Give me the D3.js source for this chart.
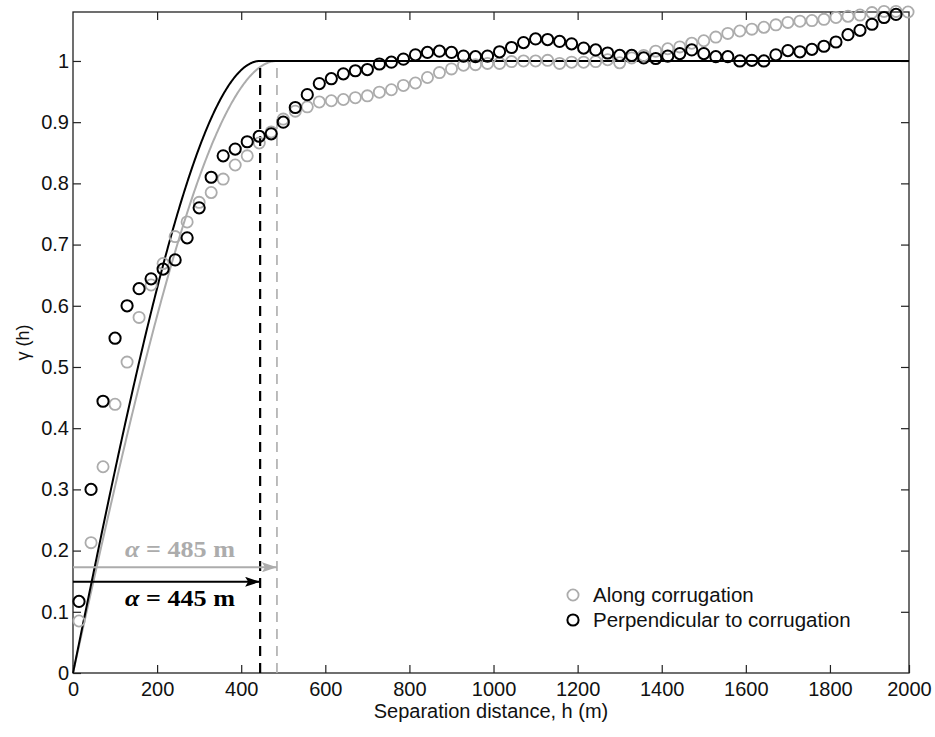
<!DOCTYPE html>
<html>
<head>
<meta charset="utf-8">
<script src="https://cdn.jsdelivr.net/npm/d3@7"></script>
<style>
body { margin: 0; background: #fff; }
svg text { font-family: "Liberation Sans", Arial, sans-serif; }
</style>
</head>
<body>
<svg id="chart" width="935" height="737"></svg>
<script>
// lag distances (m), same for both directions
var lags = [14.3, 42.9, 71.4, 100.0, 128.6, 157.1, 185.7, 214.3, 242.9, 271.4,
	    300.0, 328.6, 357.1, 385.7, 414.3, 442.9, 471.4, 500.0, 528.6, 557.1,
	    585.7, 614.3, 642.9, 671.4, 700.0, 728.6, 757.1, 785.7, 814.3, 842.9,
	    871.4, 900.0, 928.6, 957.1, 985.7, 1014.3, 1042.9, 1071.4, 1100.0, 1128.6,
	    1157.1, 1185.7, 1214.3, 1242.9, 1271.4, 1300.0, 1328.6, 1357.1, 1385.7, 1414.3,
	    1442.9, 1471.4, 1500.0, 1528.6, 1557.1, 1585.7, 1614.3, 1642.9, 1671.4, 1700.0,
	    1728.6, 1757.1, 1785.7, 1814.3, 1842.9, 1871.4, 1900.0, 1928.6, 1957.1, 1985.7]

var gammaAlong = [0.085, 0.213, 0.337, 0.439, 0.508, 0.581, 0.634, 0.669, 0.713, 0.737,
		  0.769, 0.785, 0.807, 0.830, 0.845, 0.866, 0.884, 0.905, 0.918, 0.925,
		  0.933, 0.935, 0.937, 0.940, 0.943, 0.949, 0.953, 0.960, 0.964, 0.973,
		  0.981, 0.987, 0.993, 0.994, 0.996, 0.996, 0.999, 1.000, 1.000, 1.001,
		  0.996, 0.998, 0.998, 0.999, 1.002, 0.997, 1.005, 1.009, 1.016, 1.020,
		  1.023, 1.029, 1.033, 1.039, 1.045, 1.049, 1.052, 1.055, 1.059, 1.063,
		  1.065, 1.066, 1.068, 1.071, 1.073, 1.075, 1.079, 1.081, 1.081, 1.080]

var gammaPerp = [0.117, 0.300, 0.444, 0.547, 0.600, 0.628, 0.644, 0.660, 0.675, 0.711,
		 0.760, 0.810, 0.845, 0.856, 0.868, 0.877, 0.881, 0.900, 0.924, 0.945,
		 0.963, 0.971, 0.979, 0.984, 0.986, 0.995, 0.998, 1.003, 1.010, 1.014,
		 1.016, 1.014, 1.008, 1.007, 1.008, 1.015, 1.022, 1.030, 1.036, 1.035,
		 1.032, 1.028, 1.021, 1.018, 1.013, 1.009, 1.009, 1.005, 1.004, 1.008,
		 1.012, 1.018, 1.012, 1.007, 1.007, 1.000, 1.001, 1.000, 1.010, 1.017,
		 1.015, 1.019, 1.024, 1.031, 1.043, 1.050, 1.060, 1.071, 1.076]

// spherical model ranges (m): along, perpendicular; sill = 1
var seriesNames = ["Along corrugation", "Perpendicular to corrugation"]
var modelRanges = [485, 445]
var modelSill = 1
var arrowLevels = [0.1727, 0.149]

var xTicks = [0, 200, 400, 600, 800, 1000, 1200, 1400, 1600, 1800, 2000]
var yTicks = [0, 0.1, 0.2, 0.3, 0.4, 0.5, 0.6, 0.7, 0.8, 0.9, 1]

var grey = "#acacac"
var colors = [grey, "#000"]

var xleft = 73, xright = 909, ytop = 12, ybottom = 673

// frame stops just short of 2000 m in the original, clamp puts the 2000 label at the edge
var x = d3.scaleLinear().domain([0, 1988]).range([xleft, xright]).clamp(true)
var y = d3.scaleLinear().domain([0, 1.08]).range([ybottom, ytop])

var svg = d3.select("#chart")

function spherical(h, a) {
    if (h >= a) return modelSill
    var r = h / a
    return modelSill * (1.5 * r - 0.5 * r * r * r)
}

// axes, ticks pointing inward on all four sides
svg.append("g")
    .attr("transform", "translate(0," + ybottom + ")")
    .call(d3.axisBottom(x).tickValues(xTicks).tickSize(-8).tickPadding(9)
	  .tickFormat(d3.format("d")))
    .call(function(g) { g.select(".domain").remove() })
    .selectAll("text").attr("font-size", 20).attr("fill", "#111")

svg.append("g")
    .attr("transform", "translate(0," + ytop + ")")
    .call(d3.axisTop(x).tickValues(xTicks.slice(1, -1)).tickSize(-8).tickFormat(""))
    .call(function(g) { g.select(".domain").remove() })

svg.append("g")
    .attr("transform", "translate(" + xleft + ",0)")
    .call(d3.axisLeft(y).tickValues(yTicks).tickSize(-8).tickPadding(4)
	  .tickFormat(d3.format("")))
    .call(function(g) { g.select(".domain").remove() })
    .selectAll("text").attr("font-size", 20).attr("fill", "#111")

svg.append("g")
    .attr("transform", "translate(" + xright + ",0)")
    .call(d3.axisRight(y).tickValues(yTicks.slice(1)).tickSize(-8).tickFormat(""))
    .call(function(g) { g.select(".domain").remove() })

svg.selectAll(".tick line").attr("stroke", "#222").attr("stroke-width", 1.2)

svg.append("rect")
    .attr("x", xleft)
    .attr("y", ytop)
    .attr("width", xright - xleft)
    .attr("height", ybottom - ytop)
    .attr("fill", "none")
    .attr("stroke", "#222")
    .attr("stroke-width", 1.3)

// model curves
var modelLine = d3.line()
    .x(function(d) { return x(d[0]) })
    .y(function(d) { return y(d[1]) })

modelRanges.forEach(function(a, i) {
    var pts = d3.range(0, a, 2).map(function(h) { return [h, spherical(h, a)] })
    pts.push([a, modelSill], [1988, modelSill])
    svg.append("path")
	.attr("d", modelLine(pts))
	.attr("fill", "none")
	.attr("stroke", colors[i])
	.attr("stroke-width", 2)
})

// range markers
modelRanges.forEach(function(a, i) {
    svg.append("line")
	.attr("x1", x(a)).attr("x2", x(a))
	.attr("y1", y(0)).attr("y2", y(modelSill))
	.attr("stroke", colors[i])
	.attr("stroke-width", i == 1 ? 2.2 : 1.6)
	.attr("stroke-dasharray", "10,7")
})

var defs = svg.append("defs")
colors.forEach(function(c, i) {
    defs.append("marker")
	.attr("id", "head" + i)
	.attr("viewBox", "0 0 15 10")
	.attr("refX", 15)
	.attr("refY", 5)
	.attr("markerWidth", 15)
	.attr("markerHeight", 10)
	.attr("markerUnits", "userSpaceOnUse")
	.attr("orient", "auto")
	.append("path")
	.attr("d", "M0,0 L15,5 L0,10 L3,5 Z")
	.attr("fill", c)
})

modelRanges.forEach(function(a, i) {
    svg.append("line")
	.attr("x1", x(0)).attr("x2", x(a))
	.attr("y1", y(arrowLevels[i])).attr("y2", y(arrowLevels[i]))
	.attr("stroke", colors[i])
	.attr("stroke-width", 2)
	.attr("marker-end", "url(#head" + i + ")")
})

var labels = svg.selectAll("text.alpha")
    .data(modelRanges)
    .enter()
    .append("text")
    .attr("class", "alpha")
    .attr("x", 125)
    .attr("y", function(d, i) { return i == 0 ? 557 : 606 })
    .attr("fill", function(d, i) { return colors[i] })
    .attr("font-size", 23)
    .attr("font-weight", "bold")
    .attr("textLength", 110)
    .attr("lengthAdjust", "spacingAndGlyphs")
    .style("font-family", "'Liberation Serif', 'Times New Roman', serif")
labels.append("tspan").attr("font-style", "italic").text("\u03b1")
labels.append("tspan").text(function(d) { return " = " + d + " m" })

// empirical variograms
var series = [gammaAlong, gammaPerp]
series.forEach(function(vals, i) {
    svg.append("g")
	.selectAll("circle")
	.data(vals)
	.enter()
	.append("circle")
	.attr("cx", function(d, j) { return x(lags[j]) })
	.attr("cy", function(d) { return y(d) })
	.attr("r", 5.6)
	.attr("fill", "none")
	.attr("stroke", colors[i])
	.attr("stroke-width", i == 1 ? 2 : 1.8)
})

// legend
var legend = svg.append("g").selectAll("g")
    .data(seriesNames)
    .enter()
    .append("g")
    .attr("transform", function(d, i) { return "translate(573," + (595 + i * 25) + ")" })
legend.append("circle")
    .attr("r", 5.6)
    .attr("fill", "none")
    .attr("stroke", function(d, i) { return colors[i] })
    .attr("stroke-width", function(d, i) { return i == 1 ? 2 : 1.8 })
legend.append("text")
    .attr("x", 20)
    .attr("y", 7)
    .attr("font-size", 20.5)
    .attr("fill", "#111")
    .text(function(d) { return d })

// axis titles
svg.append("text")
    .attr("x", (xleft + xright) / 2)
    .attr("y", 718)
    .attr("text-anchor", "middle")
    .attr("font-size", 20)
    .attr("fill", "#111")
    .text("Separation distance, h (m)")

svg.append("text")
    .attr("transform", "translate(29," + ((ytop + ybottom) / 2) + ") rotate(-90)")
    .attr("text-anchor", "middle")
    .attr("font-size", 18)
    .attr("fill", "#111")
    .text("\u03b3 (h)")
</script>
</body>
</html>
